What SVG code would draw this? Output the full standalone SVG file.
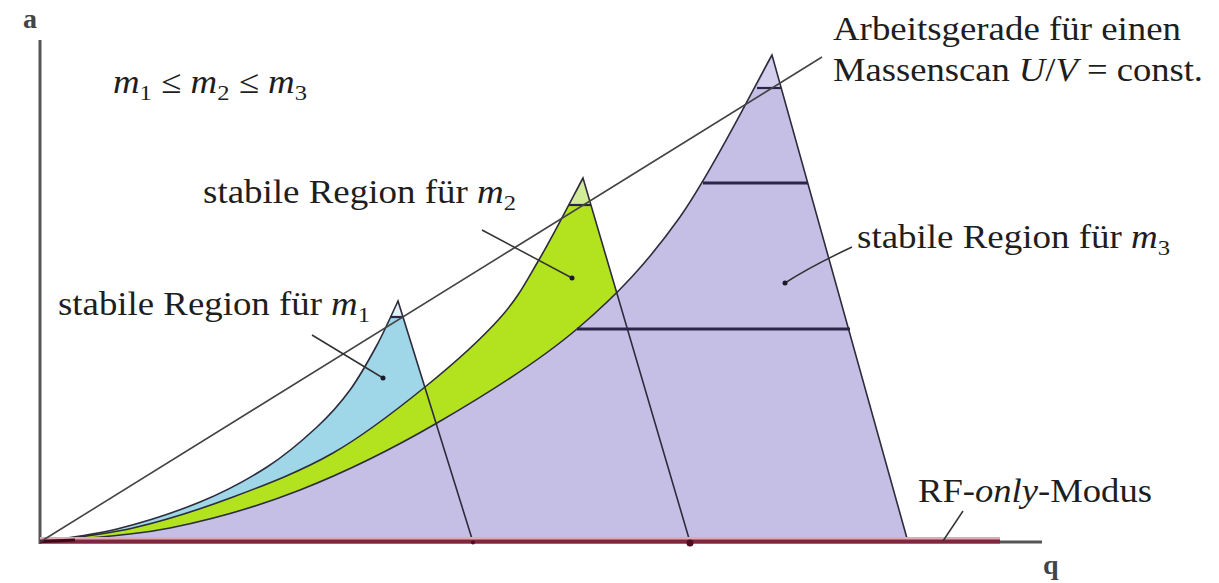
<svg xmlns="http://www.w3.org/2000/svg" width="1219" height="583" viewBox="0 0 1219 583">
<style>
.lbl{font-family:"Liberation Serif","Times New Roman",serif;font-size:33px;fill:#1e1e1e}
.it{font-style:italic}
.edge{fill:none;stroke:#2c2c3c;stroke-width:1.6}
.scan{stroke:#2a2648;stroke-width:3}
.tipline{stroke:#2a2648;stroke-width:2.2}
.lead{fill:none;stroke:#333;stroke-width:1.5}
.dot{fill:#1a1a2a}
.ax{font-family:"Liberation Serif","Times New Roman",serif;font-size:28px;font-weight:bold;fill:#444}
</style>
<rect width="1219" height="583" fill="#fff"/>

<g id="regions">
  <path id="region-m1" fill="#9fd6e8" d="M40,542 C52.8,539.8 90.3,535.7 117,529 C143.7,522.3 175,512.3 200,502 C225,491.7 247.5,479.5 267,467 C286.5,454.5 303.2,439.8 317,427 C330.8,414.2 340,403.7 350,390 C360,376.3 369,359.8 377,345 C385,330.2 394.5,308.3 398,301 L473,542 Z"/>
  <path id="region-m2" fill="#b3e21f" d="M40,542 C55.5,539.7 100.8,535.5 133,528 C165.2,520.5 199.7,509.5 233,497 C266.3,484.5 301,471.3 333,453 C365,434.7 397.2,409.5 425,387 C452.8,364.5 480.8,339.5 500,318 C519.2,296.5 526.2,281.3 540,258 C553.8,234.7 575.8,191.3 583,178 L690,542 Z"/>
  <path id="region-m3" fill="#c5bfe5" d="M40,542 C61.7,539.7 126.7,536.7 170,528 C213.3,519.3 255.5,507.5 300,490 C344.5,472.5 390.8,449.8 437,423 C483.2,396.2 536.5,363.3 577,329 C617.5,294.7 647.5,262.7 680,217 C712.5,171.3 756.7,82 772,55 L908,542 Z"/>
  <polygon fill="#e3f1f6" points="390,317 398,301 403,317"/>
  <polygon fill="#d2eb98" points="569,205 583,178 591,205"/>
  <polygon fill="#d4cfec" points="757,88 772,55 781,88"/>
</g>

<g id="boundaries">
  <path class="edge" d="M40,542 C52.8,539.8 90.3,535.7 117,529 C143.7,522.3 175,512.3 200,502 C225,491.7 247.5,479.5 267,467 C286.5,454.5 303.2,439.8 317,427 C330.8,414.2 340,403.7 350,390 C360,376.3 369,359.8 377,345 C385,330.2 394.5,308.3 398,301 L473,542"/>
  <path class="edge" d="M40,542 C55.5,539.7 100.8,535.5 133,528 C165.2,520.5 199.7,509.5 233,497 C266.3,484.5 301,471.3 333,453 C365,434.7 397.2,409.5 425,387 C452.8,364.5 480.8,339.5 500,318 C519.2,296.5 526.2,281.3 540,258 C553.8,234.7 575.8,191.3 583,178 L690,542"/>
  <path class="edge" d="M40,542 C61.7,539.7 126.7,536.7 170,528 C213.3,519.3 255.5,507.5 300,490 C344.5,472.5 390.8,449.8 437,423 C483.2,396.2 536.5,363.3 577,329 C617.5,294.7 647.5,262.7 680,217 C712.5,171.3 756.7,82 772,55 L908,542"/>
  <line class="scan" x1="577" y1="329" x2="850" y2="329"/>
  <line class="scan" x1="703" y1="183" x2="808" y2="183"/>
  <line class="tipline" x1="757" y1="88" x2="781" y2="88"/>
  <line class="tipline" x1="569" y1="205" x2="591" y2="205"/>
  <line class="tipline" x1="390" y1="317" x2="403" y2="317"/>
</g>

<g id="axes">
  <line x1="40" y1="542" x2="1042" y2="542" stroke="#555" stroke-width="3"/>
  <line x1="40" y1="40" x2="40" y2="544" stroke="#555" stroke-width="3"/>
  <line x1="40" y1="538.5" x2="1000" y2="538.5" stroke="#e7a6b8" stroke-width="3"/>
  <line x1="40" y1="541.5" x2="1000" y2="541.5" stroke="#7a2a3c" stroke-width="4"/>
  <line x1="40" y1="541.5" x2="75" y2="540" stroke="#3a0a18" stroke-width="3"/>
  <circle cx="690" cy="543" r="3.5" fill="#4a1020"/>
  <circle cx="473" cy="542.5" r="2" fill="#4a1020"/>
  <text class="ax" x="23" y="28">a</text>
  <text class="ax" x="1043" y="574">q</text>
</g>

<g id="connectors">
  <line x1="40" y1="542" x2="822" y2="57" stroke="#444" stroke-width="1.6"/>
  <path class="lead" d="M312,335 L383,378"/>
  <path class="lead" d="M482,230 L572,278"/>
  <path class="lead" d="M852,247 C835,255 805,270 785,283"/>
  <path class="lead" d="M943,541 L963,511"/>
  <circle class="dot" cx="383" cy="378" r="2.5"/>
  <circle class="dot" cx="572" cy="278" r="2.5"/>
  <circle class="dot" cx="785" cy="283" r="2.5"/>
</g>

<g id="label-order">
  <text class="lbl" x="113" y="93" textLength="194" lengthAdjust="spacingAndGlyphs"><tspan class="it">m</tspan><tspan font-size="22" dy="7">1</tspan><tspan dy="-7"> ≤ </tspan><tspan class="it">m</tspan><tspan font-size="22" dy="7">2</tspan><tspan dy="-7"> ≤ </tspan><tspan class="it">m</tspan><tspan font-size="22" dy="7">3</tspan></text>
</g>
<g id="label-workline">
  <text class="lbl" x="833" y="40" textLength="348" lengthAdjust="spacingAndGlyphs">Arbeitsgerade für einen</text>
  <text class="lbl" x="833" y="81" textLength="370" lengthAdjust="spacingAndGlyphs">Massenscan <tspan class="it">U</tspan>/<tspan class="it">V</tspan> = const.</text>
</g>
<g id="label-m1">
  <text class="lbl" x="58" y="315" textLength="312" lengthAdjust="spacingAndGlyphs">stabile Region für <tspan class="it">m</tspan><tspan font-size="22" dy="7">1</tspan></text>
</g>
<g id="label-m2">
  <text class="lbl" x="203" y="203" textLength="313" lengthAdjust="spacingAndGlyphs">stabile Region für <tspan class="it">m</tspan><tspan font-size="22" dy="7">2</tspan></text>
</g>
<g id="label-m3">
  <text class="lbl" x="857" y="248" textLength="313" lengthAdjust="spacingAndGlyphs">stabile Region für <tspan class="it">m</tspan><tspan font-size="22" dy="7">3</tspan></text>
</g>
<g id="label-rf">
  <text class="lbl" x="918" y="502" textLength="234" lengthAdjust="spacingAndGlyphs">RF-<tspan class="it">only</tspan>-Modus</text>
</g>
</svg>
